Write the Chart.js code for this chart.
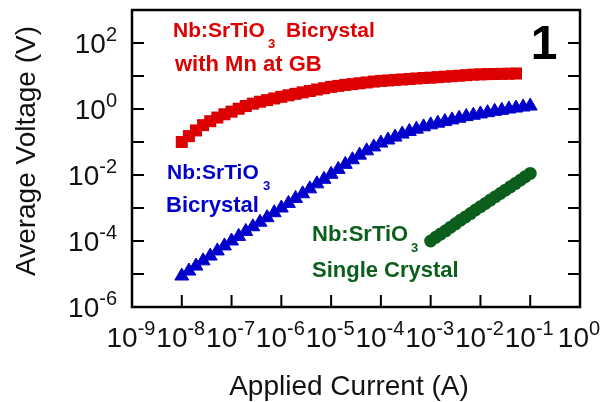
<!DOCTYPE html>
<html>
<head>
<meta charset="utf-8">
<script src="https://cdn.jsdelivr.net/npm/chart.js@4.4.0/dist/chart.umd.min.js"></script>
<style>
  body { margin: 0; background: #fff; }
  canvas { display: block; }
</style>
</head>
<body>
<canvas id="myChart" width="604" height="402"></canvas>
<script>
// applied current (A), shared by the two bicrystal series
const current = [
  1.00e-8, 1.39e-8, 1.93e-8, 2.68e-8, 3.73e-8, 5.18e-8, 7.20e-8,
  1.00e-7, 1.39e-7, 1.93e-7, 2.68e-7, 3.73e-7, 5.18e-7, 7.20e-7,
  1.00e-6, 1.39e-6, 1.93e-6, 2.68e-6, 3.73e-6, 5.18e-6, 7.20e-6,
  1.00e-5, 1.39e-5, 1.93e-5, 2.68e-5, 3.73e-5, 5.18e-5, 7.20e-5,
  1.00e-4, 1.39e-4, 1.93e-4, 2.68e-4, 3.73e-4, 5.18e-4, 7.20e-4,
  1.00e-3, 1.39e-3, 1.93e-3, 2.68e-3, 3.73e-3, 5.18e-3, 7.20e-3,
  1.00e-2, 1.39e-2, 1.93e-2, 2.68e-2, 3.73e-2, 5.18e-2, 7.20e-2,
  1.00e-1
];

// Nb:SrTiO3 bicrystal with Mn at GB (V)
const mnVoltage = [
  0.100, 0.151, 0.224, 0.324, 0.427, 0.550, 0.692, 0.832,
  1.02, 1.23, 1.45, 1.66, 1.86, 2.09, 2.34, 2.60, 2.88, 3.20,
  3.51, 3.89, 4.27, 4.68, 5.01, 5.37, 5.69, 6.03, 6.38, 6.76,
  7.08, 7.33, 7.59, 7.85, 8.13, 8.41, 8.71, 8.91, 9.23, 9.55,
  9.89, 10.2, 10.6, 11.0, 11.2, 11.4, 11.5, 11.6, 11.7, 11.9
];

// Nb:SrTiO3 bicrystal (V)
const biVoltage = [
  8.7e-6, 1.23e-5, 1.74e-5, 2.5e-5, 3.5e-5, 5.0e-5, 7.1e-5,
  1.0e-4, 1.38e-4, 1.95e-4, 2.7e-4, 3.7e-4, 5.1e-4, 7.2e-4,
  1.0e-3, 1.38e-3, 1.95e-3, 2.7e-3, 3.8e-3, 5.4e-3, 7.4e-3,
  1.05e-2, 1.48e-2, 2.1e-2, 2.9e-2, 4.0e-2, 5.4e-2, 7.1e-2,
  9.3e-2, 0.115, 0.141, 0.174, 0.209, 0.245, 0.288,
  0.331, 0.372, 0.417, 0.468, 0.525, 0.589, 0.646,
  0.708, 0.776, 0.851, 0.912, 1.0, 1.07, 1.15,
  1.23
];

// Nb:SrTiO3 single crystal
const singleCurrent = [
  1.00e-3, 1.26e-3, 1.58e-3, 2.00e-3, 2.51e-3, 3.16e-3, 3.98e-3, 5.01e-3, 6.31e-3, 7.94e-3,
  1.00e-2, 1.26e-2, 1.58e-2, 2.00e-2, 2.51e-2, 3.16e-2, 3.98e-2, 5.01e-2, 6.31e-2, 7.94e-2,
  1.00e-1
];
const singleVoltage = [
  1.0e-4, 1.29e-4, 1.62e-4, 2.04e-4, 2.63e-4, 3.31e-4, 4.27e-4, 5.37e-4, 6.76e-4, 8.71e-4,
  1.10e-3, 1.38e-3, 1.74e-3, 2.19e-3, 2.75e-3, 3.47e-3, 4.37e-3, 5.50e-3, 6.92e-3, 8.91e-3,
  1.12e-2
];

// tick exponents
const xTickExp = [-9, -8, -7, -6, -5, -4, -3, -2, -1, 0];
const yTickExp = [-6, -5, -4, -3, -2, -1, 0, 1, 2, 3];
const yLabelExp = [2, 0, -2, -4, -6];

const RED = '#dd0000';
const BLUE = '#0000cc';
const GREEN = '#0b5e1c';
const FONT = '"Liberation Sans", Arial, sans-serif';

function pts(xs, ys) {
  return ys.map((v, i) => ({ x: xs[i], y: v }));
}

// draws 10^exp, y is the baseline of the "10"
function drawPow(ctx, exp, x, y, align) {
  ctx.font = '28px ' + FONT;
  const wb = ctx.measureText('10').width;
  ctx.font = '20px ' + FONT;
  const we = ctx.measureText(String(exp)).width;
  const start = align === 'right' ? x - wb - we : x - (wb + we) / 2;
  ctx.textAlign = 'left';
  ctx.textBaseline = 'alphabetic';
  ctx.font = '28px ' + FONT;
  ctx.fillText('10', start, y);
  ctx.font = '20px ' + FONT;
  ctx.fillText(String(exp), start + wb, y - 12);
}

// "Nb:SrTiO" + subscript 3 + rest
function drawLabel(ctx, color, size, x, y, subX, rest, restX) {
  ctx.fillStyle = color;
  ctx.textAlign = 'left';
  ctx.textBaseline = 'alphabetic';
  ctx.font = 'bold ' + size + 'px ' + FONT;
  ctx.fillText('Nb:SrTiO', x, y);
  ctx.font = 'bold 13px ' + FONT;
  ctx.fillText('3', subX, y + 11);
  if (rest) {
    ctx.font = 'bold ' + size + 'px ' + FONT;
    ctx.fillText(rest, restX, y);
  }
}

const framePlugin = {
  id: 'frame',
  afterDraw(chart) {
    const ctx = chart.ctx;
    const a = chart.chartArea;
    const xs = chart.scales.x;
    const ys = chart.scales.y;
    ctx.save();

    // inward ticks
    ctx.strokeStyle = '#000';
    ctx.lineWidth = 2;
    ctx.beginPath();
    xTickExp.forEach(e => {
      const px = xs.getPixelForValue(Math.pow(10, e));
      ctx.moveTo(px, a.bottom);
      ctx.lineTo(px, a.bottom - 12);
    });
    yTickExp.forEach(e => {
      const py = ys.getPixelForValue(Math.pow(10, e));
      ctx.moveTo(a.left, py);
      ctx.lineTo(a.left + 12, py);
      ctx.moveTo(a.right, py);
      ctx.lineTo(a.right - 12, py);
    });
    ctx.stroke();

    // box
    ctx.lineWidth = 2.5;
    ctx.strokeRect(a.left, a.top, a.right - a.left, a.bottom - a.top);

    // tick labels
    ctx.fillStyle = '#111';
    xTickExp.forEach(e => {
      drawPow(ctx, e, xs.getPixelForValue(Math.pow(10, e)) - 1, 347, 'center');
    });
    yLabelExp.forEach(e => {
      drawPow(ctx, e, 117, ys.getPixelForValue(Math.pow(10, e)) + 10, 'right');
    });

    // axis titles
    ctx.font = '28px ' + FONT;
    ctx.textAlign = 'center';
    ctx.textBaseline = 'alphabetic';
    ctx.fillText('Applied Current (A)', 349, 395);
    ctx.save();
    ctx.translate(35, 151);
    ctx.rotate(-Math.PI / 2);
    ctx.fillText('Average Voltage (V)', 0, 0);
    ctx.restore();

    // annotations
    drawLabel(ctx, RED, 21, 173, 37, 268, 'Bicrystal', 286);
    ctx.font = 'bold 22px ' + FONT;
    ctx.fillText('with Mn at GB', 175, 71);

    drawLabel(ctx, BLUE, 21, 167, 179, 263, null, 0);
    ctx.font = 'bold 22px ' + FONT;
    ctx.fillText('Bicrystal', 166, 212);

    drawLabel(ctx, GREEN, 22, 312, 241, 411, null, 0);
    ctx.font = 'bold 22px ' + FONT;
    ctx.fillText('Single Crystal', 312, 277);

    ctx.fillStyle = '#000';
    ctx.font = 'bold 48px ' + FONT;
    ctx.textAlign = 'center';
    ctx.fillText('1', 544, 59);

    ctx.restore();
  }
};

const ctx = document.getElementById('myChart');
const myChart = new Chart(ctx, {
  type: 'scatter',
  data: {
    datasets: [
      {
        label: 'Bicrystal with Mn at GB',
        data: pts(current, mnVoltage),
        pointStyle: 'rect',
        pointRadius: 8.5,
        backgroundColor: RED,
        borderColor: RED,
        borderWidth: 0
      },
      {
        label: 'Bicrystal',
        data: pts(current, biVoltage),
        pointStyle: 'triangle',
        pointRadius: 8,
        backgroundColor: BLUE,
        borderColor: BLUE,
        borderWidth: 1
      },
      {
        label: 'Single Crystal',
        data: pts(singleCurrent, singleVoltage),
        pointStyle: 'circle',
        pointRadius: 6.5,
        backgroundColor: GREEN,
        borderColor: GREEN,
        borderWidth: 0
      }
    ]
  },
  options: {
    responsive: false,
    animation: false,
    layout: { padding: { left: 132, top: 10, right: 24, bottom: 95 } },
    plugins: {
      legend: { display: false },
      tooltip: { enabled: false }
    },
    scales: {
      x: {
        type: 'logarithmic',
        min: 1e-9,
        max: 1,
        ticks: { display: false },
        grid: { display: false },
        border: { display: false },
        afterFit: s => { s.height = 0; }
      },
      y: {
        type: 'logarithmic',
        min: 1e-6,
        max: 1e3,
        ticks: { display: false },
        grid: { display: false },
        border: { display: false },
        afterFit: s => { s.width = 0; }
      }
    }
  },
  plugins: [framePlugin]
});
</script>
</body>
</html>
